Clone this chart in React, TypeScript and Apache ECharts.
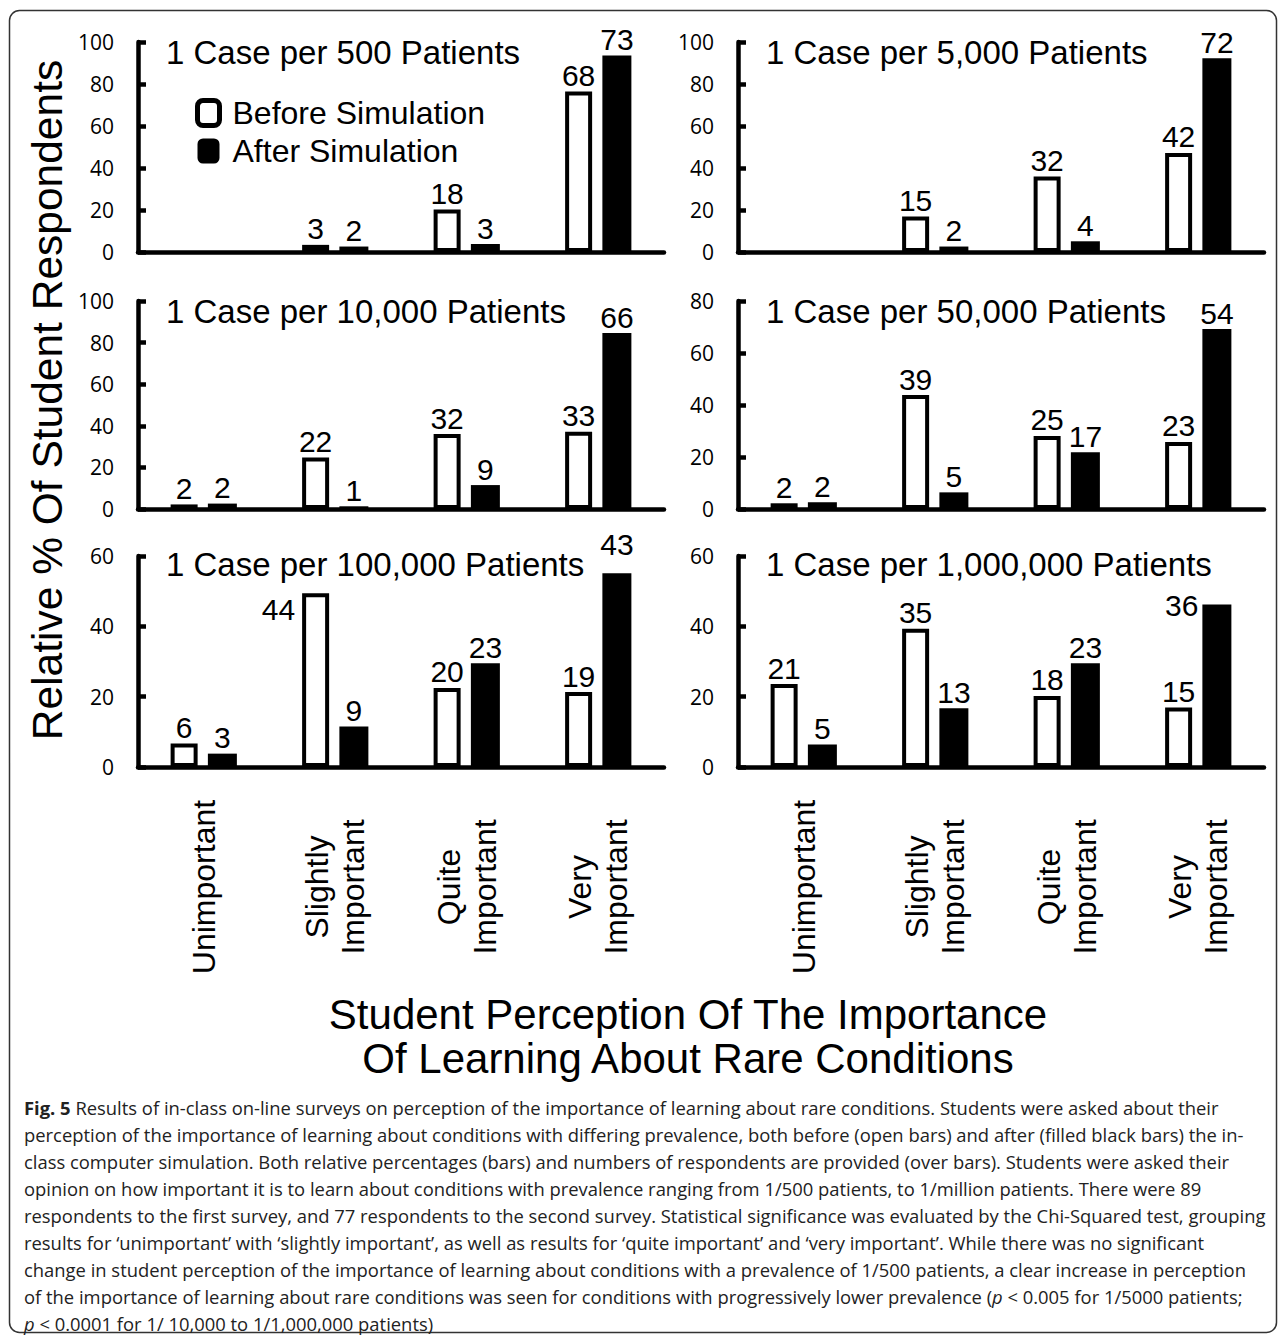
import React, { useEffect, useRef } from "react";
import * as echarts from "echarts";

// ---------- data ----------
const CATEGORIES = ["Unimportant", "Slightly\nImportant", "Quite\nImportant", "Very\nImportant"];
const PANEL_TITLES = [
  "1 Case per 500 Patients",
  "1 Case per 5,000 Patients",
  "1 Case per 10,000 Patients",
  "1 Case per 50,000 Patients",
  "1 Case per 100,000 Patients",
  "1 Case per 1,000,000 Patients",
];
const Y_MAX = [100, 100, 100, 80, 60, 60];
const Y_INTERVAL = 20;
const SERIES_NAMES = ["Before Simulation", "After Simulation"];

// relative % of student respondents (bar heights)
const BEFORE_PCT = [
  [null, 3.4, 20.2, 76.4],
  [null, 16.9, 36.0, 47.2],
  [2.2, 24.7, 36.0, 37.1],
  [2.2, 43.8, 28.1, 25.8],
  [6.7, 49.4, 22.5, 21.3],
  [23.6, 39.3, 20.2, 16.9],
];
const AFTER_PCT = [
  [null, 2.6, 3.8, 93.6],
  [null, 2.6, 5.1, 92.3],
  [2.6, 1.3, 11.5, 84.6],
  [2.6, 6.4, 21.8, 69.2],
  [3.8, 11.5, 29.5, 55.1],
  [6.4, 16.7, 29.5, 46.2],
];
// number of respondents (printed over bars)
const BEFORE_N = [
  [null, 3, 18, 68],
  [null, 15, 32, 42],
  [2, 22, 32, 33],
  [2, 39, 25, 23],
  [6, 44, 20, 19],
  [21, 35, 18, 15],
];
const AFTER_N = [
  [null, 2, 3, 73],
  [null, 2, 4, 72],
  [2, 1, 9, 66],
  [2, 5, 17, 54],
  [3, 9, 23, 43],
  [5, 13, 23, 36],
];

const Y_TITLE = "Relative % Of Student Respondents";
const X_TITLE_LINES = ["Student Perception Of The Importance", "Of Learning About Rare Conditions"];
const CAPTION_LINES = [
  "{b|Fig. 5} Results of in-class on-line surveys on perception of the importance of learning about rare conditions. Students were asked about their",
  "perception of the importance of learning about conditions with differing prevalence, both before (open bars) and after (filled black bars) the in-",
  "class computer simulation. Both relative percentages (bars) and numbers of respondents are provided (over bars). Students were asked their",
  "opinion on how important it is to learn about conditions with prevalence ranging from 1/500 patients, to 1/million patients. There were 89",
  "respondents to the first survey, and 77 respondents to the second survey. Statistical significance was evaluated by the Chi-Squared test, grouping",
  "results for \u2018unimportant\u2019 with \u2018slightly important\u2019, as well as results for \u2018quite important\u2019 and \u2018very important\u2019. While there was no significant",
  "change in student perception of the importance of learning about conditions with a prevalence of 1/500 patients, a clear increase in perception",
  "of the importance of learning about rare conditions was seen for conditions with progressively lower prevalence ({i|p} < 0.005 for 1/5000 patients;",
  "{i|p} < 0.0001 for 1/ 10,000 to 1/1,000,000 patients)",
];

// ---------- layout / style ----------
const FONT = "'Liberation Sans', Arial, Helvetica, sans-serif";
const TICK_FONT = "'Open Sans', 'Liberation Sans', sans-serif";
const CAPTION_FONT = "'Open Sans', 'Liberation Sans', sans-serif";
const CAPTION_SIZE = 18.4;
const COL_LEFT = [138, 738];
const GRID_W = 526;
const ROW_TOP = [42, 301, 556];
const ROW_H = [210, 208, 211];

const LABEL_OVERRIDES: any[] = [
  { panel: 4, series: 0, index: 1, label: { position: [-7, 1], align: "right", verticalAlign: "top" } },
  { panel: 5, series: 1, index: 3, label: { position: [-4, -14], align: "right", verticalAlign: "top" } },
  { panel: 4, series: 1, index: 3, label: { offset: [0, -13] } },
];

function buildOption() {
  const grid: any[] = [];
  const xAxis: any[] = [];
  const yAxis: any[] = [];
  const series: any[] = [];

  for (let p = 0; p < 6; p++) {
    const row = Math.floor(p / 2);
    const col = p % 2;
    grid.push({ left: COL_LEFT[col], top: ROW_TOP[row], width: GRID_W, height: ROW_H[row], containLabel: false });
    xAxis.push({
      type: "category",
      gridIndex: p,
      data: CATEGORIES,
      axisLine: { show: true, lineStyle: { color: "#000", width: 4.5 } },
      axisTick: { show: false },
      axisLabel: {
        show: row === 2,
        interval: 0,
        rotate: 90,
        align: "center",
        verticalAlign: "middle",
        margin: 120,
        fontSize: 32,
        lineHeight: 36,
        fontFamily: FONT,
        color: "#000",
      },
    });
    yAxis.push({
      type: "value",
      gridIndex: p,
      min: 0,
      max: Y_MAX[p],
      interval: Y_INTERVAL,
      splitLine: { show: false },
      axisLine: { show: true, lineStyle: { color: "#000", width: 4.5 } },
      axisTick: { show: true, inside: true, length: 8, lineStyle: { color: "#000", width: 4.5 } },
      axisLabel: { fontSize: 21, fontFamily: TICK_FONT, color: "#000", margin: 24 },
    });

    const pctSets = [BEFORE_PCT[p], AFTER_PCT[p]];
    const nSets = [BEFORE_N[p], AFTER_N[p]];
    for (let s = 0; s < 2; s++) {
      const data = pctSets[s].map((v, i) => {
        if (v == null) return null;
        const ov = LABEL_OVERRIDES.find((o) => o.panel === p && o.series === s && o.index === i);
        return ov ? { value: v, label: ov.label } : v;
      });
      const counts = nSets[s];
      series.push({
        type: "bar",
        name: SERIES_NAMES[s],
        xAxisIndex: p,
        yAxisIndex: p,
        barWidth: s === 0 ? 27 : 29,
        barGap: "38%",
        data,
        itemStyle:
          s === 0
            ? { color: "#fff", borderColor: "#000", borderWidth: 4 }
            : { color: "#000", borderWidth: 0 },
        label: {
          show: true,
          position: "top",
          distance: 1,
          fontSize: 30,
          fontFamily: FONT,
          color: "#000",
          formatter: (prm: any) => {
            const n = counts[prm.dataIndex];
            return n == null ? "" : String(n);
          },
        },
      });
    }
  }

  const graphic: any[] = [
    {
      type: "rect",
      shape: { x: 9.5, y: 10.5, width: 1267, height: 1322, r: 10 },
      style: { fill: "none", stroke: "#333", lineWidth: 1.5 },
      silent: true,
      z: -1,
    },
  ];
  PANEL_TITLES.forEach((t, p) => {
    const row = Math.floor(p / 2);
    const col = p % 2;
    graphic.push({
      type: "text",
      x: COL_LEFT[col] + 28,
      y: ROW_TOP[row] + (row === 2 ? 8 : 10),
      style: { text: t, fontSize: 33, fontFamily: FONT, fill: "#000", textAlign: "left", textVerticalAlign: "middle", align: "left", verticalAlign: "middle" },
    });
  });
  graphic.push({
    type: "text",
    x: 47,
    y: 400,
    rotation: Math.PI / 2,
    style: { text: Y_TITLE, fontSize: 42.5, fontFamily: FONT, fill: "#000", textAlign: "center", textVerticalAlign: "middle", align: "center", verticalAlign: "middle" },
  });
  X_TITLE_LINES.forEach((line, k) => {
    graphic.push({
      type: "text",
      x: 688,
      y: 1014 + k * 44,
      style: { text: line, fontSize: 42, fontFamily: FONT, fill: "#000", textAlign: "center", textVerticalAlign: "middle", align: "center", verticalAlign: "middle" },
    });
  });
  CAPTION_LINES.forEach((line, k) => {
    graphic.push({
      type: "text",
      x: 24,
      y: 1107 + k * 27.1,
      style: {
        text: line,
        fontSize: CAPTION_SIZE,
        fontFamily: CAPTION_FONT,
        fill: "#222",
        textAlign: "left",
        textVerticalAlign: "middle",
        align: "left",
        verticalAlign: "middle",
        rich: {
          b: { fontSize: CAPTION_SIZE, fontFamily: CAPTION_FONT, fontWeight: "bold", fill: "#222" },
          i: { fontSize: CAPTION_SIZE, fontFamily: CAPTION_FONT, fontStyle: "italic", fill: "#222" },
        },
      },
    });
  });

  return {
    animation: false,
    backgroundColor: "#fff",
    legend: {
      show: true,
      data: [
        { name: SERIES_NAMES[0], itemStyle: { color: "#fff", borderColor: "#000", borderWidth: 5 } },
        { name: SERIES_NAMES[1], itemStyle: { color: "#000", borderWidth: 0 } },
      ],
      orient: "vertical",
      left: 195,
      top: 97,
      padding: 0,
      itemWidth: 22,
      itemHeight: 25,
      itemGap: 6,
      icon: "roundRect",
      selectedMode: false,
      textStyle: { fontSize: 32, fontFamily: FONT, color: "#000", padding: [0, 0, 0, 8] },
    },
    grid,
    xAxis,
    yAxis,
    series,
    graphic,
  };
}

export default function App() {
  const ref = useRef<HTMLDivElement>(null);
  useEffect(() => {
    if (!ref.current) return;
    const chart = echarts.init(ref.current, undefined, { renderer: "svg" });
    chart.setOption(buildOption() as any);
    return () => chart.dispose();
  }, []);
  return (
    <div
      ref={ref}
      style={{ position: "absolute", left: 0, top: 0, width: 1281, height: 1337, background: "#fff" }}
    />
  );
}
